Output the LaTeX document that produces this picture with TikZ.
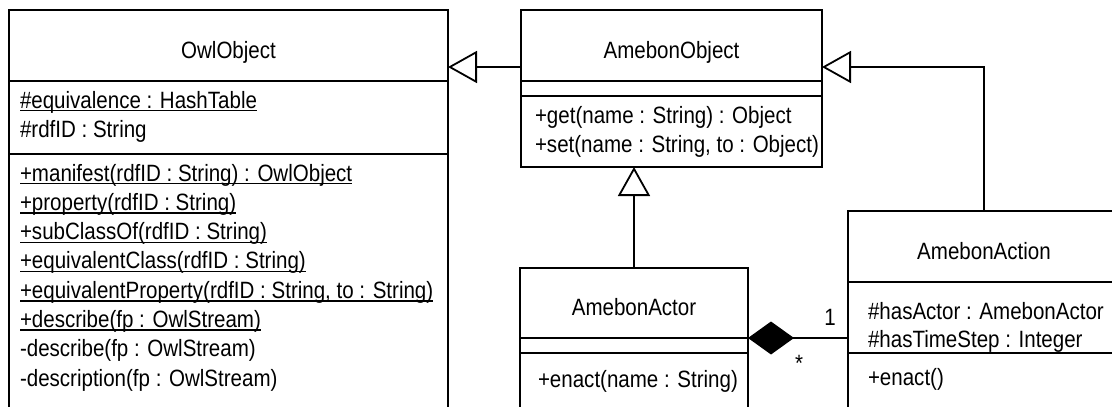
\documentclass[tikz,border=0pt]{standalone}
\usepackage{fontspec}
\setmainfont{Liberation Sans}[FakeStretch=0.87]
\usetikzlibrary{arrows.meta}
\newcommand\umlfont{\fontsize{23.6}{29}\selectfont}

\begin{document}
\begin{tikzpicture}[x=1pt,y=-1pt,
  classbox/.style={draw, line width=1.8pt, rectangle, anchor=north west,
    inner sep=0pt, outer sep=0pt},
  rule/.style={line width=1.8pt},
  txt/.style={inner sep=0pt, outer sep=0pt, anchor=base west, font=\umlfont},
  ttl/.style={inner sep=0pt, outer sep=0pt, anchor=base, font=\umlfont},
  uline/.style={line width=1.4pt},
  gen/.style={line width=1.8pt, -{Triangle[open, length=29pt, width=32pt]}},
  comp/.style={line width=1.8pt, {Diamond[length=46pt, width=33pt]}-},
  mult/.style={inner sep=0pt, font=\umlfont}
]
\useasboundingbox (0,0) rectangle (1112,407);
\clip (0,0) rectangle (1112,407);

% ---------------- class boxes ----------------
\node[classbox, minimum width=439pt, minimum height=420pt] (owl) at (9,10) {};
\node[classbox, minimum width=301pt, minimum height=157pt] (amo) at (521,10) {};
\node[classbox, minimum width=228pt, minimum height=160pt] (actor) at (520,268) {};
\node[classbox, minimum width=272pt, minimum height=220pt] (action) at (848,211) {};

% compartment separators
\draw[rule] (owl.west |- 0,81) -- (owl.east |- 0,81);
\draw[rule] (owl.west |- 0,154) -- (owl.east |- 0,154);
\draw[rule] (amo.west |- 0,81) -- (amo.east |- 0,81);
\draw[rule] (amo.west |- 0,96) -- (amo.east |- 0,96);
\draw[rule] (actor.west |- 0,338) -- (actor.east |- 0,338);
\draw[rule] (actor.west |- 0,353) -- (actor.east |- 0,353);
\draw[rule] (action.west |- 0,282) -- (action.east |- 0,282);
\draw[rule] (action.west |- 0,353) -- (action.east |- 0,353);

% ---------------- OwlObject ----------------
\node[ttl] (owlT) at (228.5,58) {OwlObject};
\node[txt] (owlA1) at (20,108) {\#equivalence : HashTable};
\node[txt] (owlA2) at (20,137) {\#rdfID : String};
\node[txt] (owlM1) at (20,181)   {+manifest(rdfID : String) : OwlObject};
\node[txt] (owlM2) at (20,210.3) {+property(rdfID : String)};
\node[txt] (owlM3) at (20,239.6) {+subClassOf(rdfID : String)};
\node[txt] (owlM4) at (20,268.9) {+equivalentClass(rdfID : String)};
\node[txt] (owlM5) at (20,298.2) {+equivalentProperty(rdfID : String, to : String)};
\node[txt] (owlM6) at (20,327.5) {+describe(fp : OwlStream)};
\node[txt] (owlM7) at (20,356.8) {-describe(fp : OwlStream)};
\node[txt] (owlM8) at (20,386.1) {-description(fp : OwlStream)};
% class-scope members are underlined
\foreach \n in {owlA1,owlM1,owlM2,owlM3,owlM4,owlM5,owlM6}
  \draw[uline] ([yshift=-2.6pt]\n.base west) -- ([yshift=-2.6pt]\n.base east);

% ---------------- AmebonObject ----------------
\node[ttl] (amoT) at (671.5,58) {AmebonObject};
\node[txt] (amoM1) at (535,123) {+get(name : String) : Object};
\node[txt] (amoM2) at (535,152) {+set(name : String, to : Object)};

% ---------------- AmebonActor ----------------
\node[ttl] (actorT) at (634,315) {AmebonActor};
\node[txt] (actorM1) at (538,387) {+enact(name : String)};

% ---------------- AmebonAction ----------------
\node[ttl] (actionT) at (984,259) {AmebonAction};
\node[txt] (actionA1) at (868,319) {\#hasActor : AmebonActor};
\node[txt] (actionA2) at (868,347) {\#hasTimeStep : Integer};
\node[txt] (actionM1) at (868,385) {+enact()};

% ---------------- relationships ----------------
% generalisations
\draw[gen] (amo.west |- 0,67) -- (owl.east |- 0,67);
\draw[gen] (actor.north) -- (actor.north |- amo.south);
\draw[gen] (action.north) |- (amo.east |- 0,67);
% composition AmebonActor <>-- AmebonAction
\draw[comp] (actor.east |- 0,338) -- (action.west |- 0,338);
\node[mult] (m1) at (830,317) {1};
\node[mult] (m2) at (799,363) {*};
\end{tikzpicture}
\end{document}
